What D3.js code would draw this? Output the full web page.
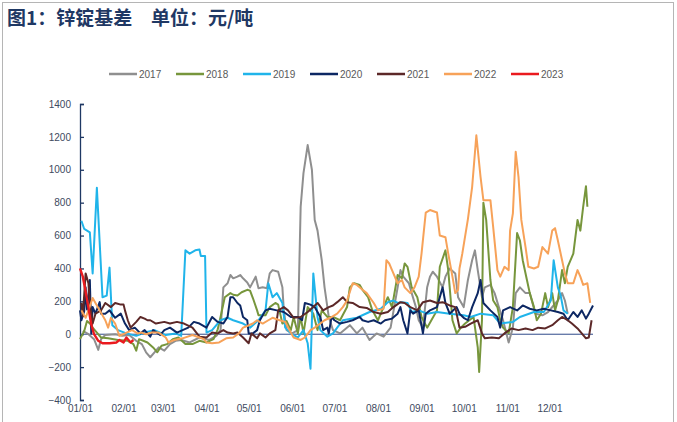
<!DOCTYPE html>
<html>
<head>
<meta charset="utf-8">
<script src="https://cdn.jsdelivr.net/npm/d3@7"></script>
<style>
body { margin: 0; background: #fff; }
svg { display: block; font-family: "Liberation Sans", Arial, sans-serif; }
</style>
</head>
<body>
<script>
// day-of-year, basis (元/吨)
var years = ["2017", "2018", "2019", "2020", "2021", "2022", "2023"];
var monthLabels = ["01/01", "02/01", "03/01", "04/01", "05/01", "06/01", "07/01", "08/01", "09/01", "10/01", "11/01", "12/01"];
var monthDays = [0, 31, 59, 90, 120, 151, 181, 212, 243, 273, 304, 334];
var yTicks = [-400, -200, 0, 200, 400, 600, 800, 1000, 1200, 1400];

var s2017 = [[2,20],[6,0],[10,-30],[13,-95],[15,-30],[18,-5],[25,0],[30,-10],[35,-5],[40,-40],[44,-60],[47,-110],[50,-140],[53,-110],[56,-80],[60,-100],[64,-60],[68,-40],[72,-35],[78,-50],[85,-20],[92,-35],[97,-10],[100,25],[102,285],[105,310],[107,360],[109,340],[112,350],[114,360],[116,340],[119,315],[121,285],[125,350],[127,280],[130,285],[133,280],[135,370],[137,390],[141,380],[144,285],[145,145],[147,25],[151,5],[155,25],[157,775],[159,980],[162,1150],[165,1000],[167,695],[169,630],[172,450],[174,285],[177,105],[180,25],[185,5],[192,55],[197,5],[201,40],[206,-35],[211,5],[216,-15],[221,40],[226,285],[228,390],[230,350],[234,310],[236,250],[239,165],[241,85],[244,40],[247,285],[249,350],[251,380],[254,350],[258,285],[260,350],[263,400],[267,370],[269,225],[273,165],[276,330],[279,450],[281,510],[283,390],[286,225],[288,285],[292,300],[295,250],[298,165],[301,85],[305,-50],[308,40],[310,250],[313,285],[317,250],[320,250],[324,125],[329,115],[333,135],[340,205],[343,250],[345,205],[347,125]];

var s2018 = [[0,-30],[3,20],[5,80],[7,65],[9,40],[12,10],[15,-20],[20,-25],[27,-35],[34,-40],[38,-60],[40,-100],[42,-30],[45,-40],[48,-50],[52,-80],[55,-110],[58,-70],[62,-60],[66,-30],[70,-20],[75,-60],[80,-60],[85,-40],[90,-50],[95,-30],[98,30],[100,105],[103,225],[107,250],[109,240],[112,235],[115,255],[119,270],[121,265],[123,220],[126,145],[127,115],[132,115],[135,165],[139,190],[141,180],[144,65],[147,80],[150,25],[152,105],[155,5],[157,105],[159,5],[160,60],[162,165],[166,125],[169,25],[172,145],[176,105],[180,105],[185,85],[190,165],[192,285],[195,310],[199,300],[201,270],[205,225],[208,145],[212,85],[215,145],[219,225],[222,165],[226,360],[229,340],[231,430],[233,410],[236,285],[240,225],[243,105],[247,40],[250,85],[254,145],[256,410],[260,510],[262,390],[265,85],[268,5],[271,40],[274,65],[277,85],[280,105],[283,-80],[284,-230],[286,85],[287,800],[289,695],[292,330],[294,205],[297,165],[299,85],[301,40],[305,5],[308,165],[311,615],[313,570],[315,450],[318,330],[320,250],[323,165],[325,85],[328,125],[331,250],[333,165],[336,250],[338,145],[340,205],[343,390],[345,310],[347,410],[351,490],[354,695],[356,630],[358,775],[360,900],[361,775]];

var s2019 = [[1,690],[3,640],[7,620],[9,370],[12,890],[16,225],[19,235],[21,405],[23,55],[27,25],[33,5],[40,-10],[46,10],[53,25],[61,-5],[68,5],[72,-10],[75,510],[78,490],[82,510],[85,515],[86,475],[89,475],[90,10],[94,25],[100,85],[105,100],[109,85],[116,65],[121,40],[127,85],[132,145],[134,310],[137,225],[140,250],[144,190],[146,40],[150,5],[155,-20],[159,25],[162,-55],[164,-210],[166,370],[169,105],[171,25],[176,-15],[180,5],[183,40],[187,85],[197,100],[206,135],[214,155],[219,195],[223,205],[226,190],[229,195],[233,190],[236,135],[241,145],[247,125],[254,135],[263,125],[273,115],[278,105],[285,125],[294,115],[299,65],[308,75],[313,105],[323,135],[330,135],[335,205],[337,450],[340,285],[342,235],[344,145],[347,125]];

var s2020 = [[0,145],[1,85],[3,140],[4,285],[5,150],[7,330],[8,5],[9,165],[11,125],[14,195],[15,125],[18,125],[21,145],[25,100],[29,125],[32,65],[35,25],[39,40],[43,5],[46,25],[50,-15],[52,25],[57,-5],[60,25],[64,40],[69,10],[73,25],[77,40],[81,75],[85,65],[90,40],[94,105],[98,75],[102,65],[105,105],[107,225],[109,225],[112,190],[114,175],[116,105],[119,85],[120,5],[123,5],[126,25],[128,85],[132,145],[135,155],[140,145],[145,135],[150,105],[155,105],[158,85],[160,190],[164,180],[167,165],[171,105],[173,25],[176,40],[177,5],[179,105],[181,85],[185,65],[190,75],[194,85],[199,105],[201,85],[205,75],[209,85],[214,65],[217,85],[222,95],[226,125],[228,165],[230,85],[233,5],[235,145],[237,125],[241,145],[244,5],[246,125],[249,145],[254,165],[258,285],[260,190],[263,125],[268,165],[270,125],[273,100],[276,85],[279,165],[283,250],[285,330],[287,190],[292,145],[297,105],[299,40],[301,145],[306,165],[311,145],[315,175],[320,155],[325,145],[330,155],[335,145],[340,135],[344,125],[347,85],[351,135],[354,105],[357,145],[360,95],[362,125],[365,175]];

var s2021 = [[1,190],[2,110],[4,370],[6,310],[7,190],[9,65],[11,125],[15,145],[18,190],[22,165],[25,190],[29,180],[31,180],[32,145],[34,85],[36,40],[40,75],[43,105],[46,95],[48,85],[50,85],[54,65],[60,75],[64,65],[69,75],[74,65],[80,40],[85,-15],[90,-20],[94,10],[98,5],[102,25],[105,10],[109,5],[112,10],[116,-20],[120,-55],[122,5],[126,-25],[128,5],[132,-20],[135,5],[139,25],[141,145],[145,165],[148,145],[152,100],[157,105],[162,135],[166,165],[169,190],[173,145],[177,165],[180,175],[183,195],[187,225],[190,195],[194,190],[199,165],[204,160],[209,135],[214,125],[219,135],[223,165],[228,195],[231,190],[235,165],[240,145],[244,195],[249,205],[254,190],[258,195],[263,175],[267,165],[270,40],[274,45],[278,65],[283,85],[286,5],[288,-25],[293,-20],[298,-25],[302,5],[307,35],[312,25],[317,35],[322,25],[326,40],[331,35],[336,55],[340,85],[343,105],[347,85],[350,65],[354,35],[357,5],[360,-25],[362,-20],[364,85]];

var s2022 = [[1,145],[4,100],[6,145],[9,220],[11,190],[14,145],[18,85],[20,40],[22,100],[25,65],[28,-10],[32,5],[37,25],[41,5],[44,10],[47,0],[51,10],[56,10],[61,-20],[63,-50],[67,-35],[73,-25],[80,-5],[85,-20],[88,-30],[90,-50],[94,-55],[99,-50],[104,-25],[109,-20],[113,5],[116,40],[119,50],[123,65],[126,85],[130,65],[134,85],[137,100],[142,85],[146,75],[149,25],[152,-20],[157,-35],[160,-20],[164,25],[167,40],[171,65],[174,85],[178,100],[183,125],[187,165],[190,205],[194,310],[197,300],[201,270],[204,250],[209,190],[212,145],[216,155],[218,450],[220,430],[222,390],[226,310],[229,330],[231,285],[235,250],[238,285],[241,350],[243,490],[246,740],[249,755],[254,740],[256,600],[260,590],[262,490],[265,350],[267,250],[269,270],[270,400],[272,490],[276,700],[279,895],[282,1210],[285,955],[287,815],[292,815],[294,650],[297,390],[299,350],[302,410],[305,390],[306,630],[308,735],[310,1110],[312,955],[314,695],[317,530],[319,410],[323,400],[326,410],[329,530],[331,510],[333,490],[336,630],[338,645],[340,570],[343,450],[345,370],[347,310],[351,310],[354,390],[356,350],[358,300],[361,310],[363,190]];

var s2023 = [[0,400],[2,350],[4,260],[6,160],[8,60],[10,0],[13,-40],[16,-55],[21,-55],[26,-50],[28,-35],[31,-50],[33,-20],[36,-50],[38,-35]];

var seriesData = [s2017, s2018, s2019, s2020, s2021, s2022, s2023];
var colors = ["#8f8f8f", "#77963c", "#20b4ea", "#0c2763", "#5c2828", "#f7a259", "#ea1a1f"];

function main() {
  var W = 677, H = 422;
  var svg = d3.select("body").append("svg")
    .attr("width", W)
    .attr("height", H);

  // frame
  svg.append("rect")
    .attr("x", 2.5).attr("y", 2.5)
    .attr("width", 671).attr("height", 430)
    .attr("fill", "none")
    .attr("stroke", "#b5b5b5");

  // title
  var title = svg.append("g")
    .attr("font-family", "'Noto Sans CJK SC', sans-serif")
    .attr("font-weight", "bold")
    .attr("font-size", 19)
    .attr("fill", "#1f3864");
  title.append("text").attr("x", 7).attr("y", 25).text("图1：锌锭基差");
  title.append("text").attr("x", 151).attr("y", 25).text("单位：元/吨");

  var x = d3.scaleLinear().domain([0, 365]).range([80, 593]);
  var y = d3.scaleLinear().domain([-400, 1400]).range([400, 104]);

  // y axis
  var yAxis = d3.axisLeft(y)
    .tickValues(yTicks)
    .tickFormat(d3.format("d"))
    .tickSizeInner(-4)
    .tickSizeOuter(-4)
    .tickPadding(9);
  var gy = svg.append("g")
    .attr("transform", "translate(80,0)")
    .call(yAxis);
  gy.selectAll("path, line").attr("stroke", "#1f3864").attr("stroke-width", 1.3);
  gy.selectAll("text").attr("font-size", 10).attr("fill", "#404a60")
    .attr("font-family", "'Liberation Sans', Arial, sans-serif");

  // zero line
  svg.append("line")
    .attr("x1", x(0)).attr("x2", x(365))
    .attr("y1", y(0)).attr("y2", y(0))
    .attr("stroke", "#2f4a8a")
    .attr("stroke-width", 1);

  // x labels
  var xAxis = d3.axisBottom(x)
    .tickValues(monthDays)
    .tickFormat(function(d, i) { return monthLabels[i]; })
    .tickSize(0)
    .tickPadding(5);
  var gx = svg.append("g")
    .attr("transform", "translate(0," + y(-400) + ")")
    .call(xAxis);
  gx.select(".domain").remove();
  gx.selectAll("text").attr("font-size", 10).attr("fill", "#404a60")
    .attr("font-family", "'Liberation Sans', Arial, sans-serif");

  // series
  var line = d3.line()
    .x(function(d) { return x(d[0]); })
    .y(function(d) { return y(d[1]); });

  for (var i = 0; i < seriesData.length; i++) {
    svg.append("path")
      .datum(seriesData[i])
      .attr("fill", "none")
      .attr("stroke", colors[i])
      .attr("stroke-width", i == 6 ? 2.4 : 2)
      .attr("stroke-linejoin", "round")
      .attr("d", line);
  }

  // legend
  var legend = svg.append("g").attr("transform", "translate(109,74)");
  var item = legend.selectAll("g")
    .data(years)
    .enter()
    .append("g")
    .attr("transform", function(d, i) { return "translate(" + (i * 67) + ",0)"; });
  item.append("line")
    .attr("x1", 0).attr("x2", 28)
    .attr("stroke", function(d, i) { return colors[i]; })
    .attr("stroke-width", 2.5);
  item.append("text")
    .attr("x", 30).attr("y", 3.5)
    .attr("font-size", 10)
    .attr("fill", "#595959")
    .text(function(d) { return d; });
}

main();
</script>
</body>
</html>
